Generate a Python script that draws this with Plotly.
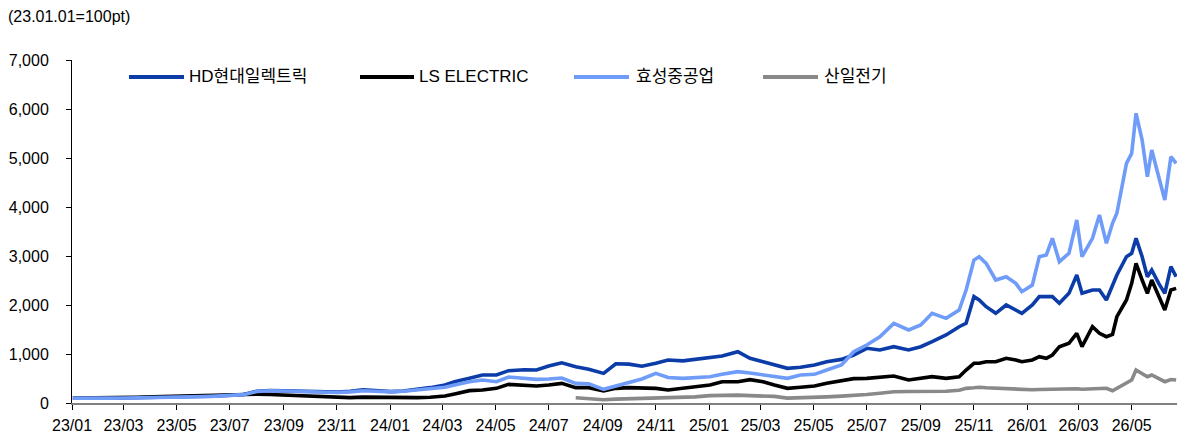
import plotly.graph_objects as go

# ---------------- data ----------------
dates = [
    "2023-01-02", "2023-01-16", "2023-02-01", "2023-02-16", "2023-03-02", "2023-03-16",
    "2023-04-03", "2023-04-17", "2023-05-02", "2023-05-16", "2023-06-01", "2023-06-16",
    "2023-07-03", "2023-07-17", "2023-08-01", "2023-08-16", "2023-09-01", "2023-09-15",
    "2023-10-04", "2023-10-16", "2023-11-01", "2023-11-16", "2023-12-01", "2023-12-15",
    "2024-01-02", "2024-01-16", "2024-02-01", "2024-02-16", "2024-03-04", "2024-03-15",
    "2024-04-01", "2024-04-16", "2024-05-02", "2024-05-16", "2024-06-03", "2024-06-17",
    "2024-07-01", "2024-07-16", "2024-08-01", "2024-08-16", "2024-09-02", "2024-09-16",
    "2024-10-01", "2024-10-16", "2024-11-01", "2024-11-15", "2024-12-02", "2024-12-16",
    "2025-01-02", "2025-01-16", "2025-02-03", "2025-02-17", "2025-03-04", "2025-03-17",
    "2025-04-01", "2025-04-16", "2025-05-02", "2025-05-16", "2025-06-02", "2025-06-16",
    "2025-07-01", "2025-07-16", "2025-08-01", "2025-08-18",
    "2025-09-01", "2025-09-14", "2025-09-30", "2025-10-15", "2025-10-23", "2025-11-01",
    "2025-11-07", "2025-11-15", "2025-11-26", "2025-12-08", "2025-12-19", "2025-12-26",
    "2026-01-07", "2026-01-15", "2026-01-23", "2026-01-30", "2026-02-07", "2026-02-18",
    "2026-02-27", "2026-03-05", "2026-03-17", "2026-03-25", "2026-04-02", "2026-04-09",
    "2026-04-14", "2026-04-25", "2026-05-01", "2026-05-06", "2026-05-13", "2026-05-19",
    "2026-05-24", "2026-06-01", "2026-06-08", "2026-06-15", "2026-06-21",
]

hd_electric = [
    100, 98, 102, 104, 106, 108, 112, 118, 122, 126, 135, 145,
    160, 172, 240, 255, 248, 240, 228, 220, 225, 240, 268, 255,
    232, 245, 272, 313, 367, 435, 503, 571, 571, 660, 680, 673,
    755, 820, 741, 690, 605, 800, 793, 750, 810, 878, 860, 890,
    925, 960, 1047, 912, 843, 775, 707, 728, 775, 843, 890, 980,
    1116, 1082, 1149, 1082,
    1149, 1251, 1388, 1557, 1626, 2170, 2102, 1965, 1830, 2000, 1898, 1830,
    2000, 2170, 2170, 2170, 2034, 2238, 2612, 2238, 2306, 2306, 2102, 2374,
    2612, 2986, 3055, 3361, 2986, 2578, 2714, 2442, 2238, 2782, 2578,
]

ls_electric = [
    100, 100, 104, 106, 112, 118, 128, 135, 140, 142, 148, 152,
    158, 165, 180, 175, 165, 158, 150, 140, 115, 110, 120, 116,
    116, 110, 110, 116, 143, 184, 252, 265, 299, 380, 370, 347,
    367, 401, 313, 313, 245, 299, 313, 299, 299, 265, 299, 333,
    367, 435, 435, 476, 435, 367, 299, 320, 347, 401, 455, 497,
    503, 524, 551, 469,
    503, 537, 503, 537, 673, 810, 810, 843, 843, 912, 878, 843,
    878, 945, 912, 980, 1149, 1218, 1422, 1149, 1557, 1422, 1353, 1400,
    1761, 2102, 2442, 2850, 2510, 2238, 2510, 2170, 1898, 2306, 2340,
]

hyosung_heavy = [
    100, 96, 99, 100, 102, 104, 108, 112, 118, 122, 130, 140,
    155, 170, 235, 250, 245, 238, 225, 218, 215, 228, 250, 240,
    228, 240, 268, 293, 320, 367, 435, 469, 435, 530, 510, 483,
    490, 510, 401, 390, 279, 347, 435, 490, 605, 520, 503, 520,
    537, 585, 639, 612, 571, 537, 503, 571, 585, 673, 775, 1047,
    1184, 1353, 1625, 1490,
    1592, 1830, 1728, 1898, 2306, 2918, 2986, 2850, 2510, 2578, 2442, 2272,
    2408, 2986, 3020, 3361, 2884, 3055, 3735, 2986, 3361, 3837, 3259, 3667,
    3871, 4891, 5095, 5912, 5367, 4618, 5163, 4618, 4143, 5027, 4891,
]

sanil_electric = [
    None, None, None, None, None, None, None, None, None, None, None, None,
    None, None, None, None, None, None, None, None, None, None, None, None,
    None, None, None, None, None, None, None, None, None, None, None, None,
    None, None, 108, 95, 65, 80, 85, 100, 110, 115, 120, 125,
    150, 160, 160, 150, 145, 135, 100, 105, 110, 125, 140, 150,
    175, 200, 230, 235,
    235, 230, 240, 260, 299, 310, 320, 310, 300, 290, 285, 280,
    270, 275, 280, 280, 285, 290, 290, 280, 290, 295, 300, 250,
    300, 401, 469, 673, 600, 537, 571, 500, 435, 480, 470,
]

series_names = ["HD현대일렉트릭", "LS ELECTRIC", "효성중공업", "산일전기"]
series_values = [hd_electric, ls_electric, hyosung_heavy, sanil_electric]
series_colors = ["#0B3CA8", "#000000", "#709CF9", "#898989"]

tick_start = "2023-01-01"
x_end = "2026-06-22"
y_max = 7000
y_step = 1000
unit_note = "(23.01.01=100pt)"

# ---------------- layout geometry (pixels) ----------------
W, H = 1178, 437
ML, MR, MT, MB = 72, 1, 60, 34
PW, PH = W - ML - MR, H - MT - MB


def px_x(p):
    return (p - ML) / PW


def px_y(p):
    return (H - MB - p) / PH


num_font = "Liberation Sans Narrow, Arial Narrow, Liberation Sans, Arial, sans-serif"
txt_font = "Liberation Sans, Arial, Noto Sans CJK KR, sans-serif"

fig = go.Figure()
for name, vals, col in zip(series_names, series_values, series_colors):
    fig.add_trace(go.Scatter(
        x=dates, y=vals, name=name, mode="lines",
        line=dict(color=col, width=3.6), showlegend=False,
        connectgaps=False,
    ))

# custom legend (long line samples like the reference)
legend_px = [(129, 184, 187), (360, 414, 417), (574, 629, 634), (763, 818, 822)]
leg_y = 77
shapes = []
annotations = []
for (x0, x1, xt), name, col in zip(legend_px, series_names, series_colors):
    shapes.append(dict(type="line", xref="paper", yref="paper",
                       x0=px_x(x0), x1=px_x(x1), y0=px_y(leg_y), y1=px_y(leg_y),
                       line=dict(color=col, width=4)))
    annotations.append(dict(xref="paper", yref="paper", x=px_x(xt), y=px_y(leg_y - 1),
                            text=name, showarrow=False, xanchor="left", yanchor="middle",
                            font=dict(family=txt_font, size=17, color="#000000")))

annotations.append(dict(xref="paper", yref="paper", x=px_x(6), y=px_y(17),
                        text=unit_note, showarrow=False, xanchor="left", yanchor="middle",
                        font=dict(family=num_font, size=16, color="#000000")))

fig.update_layout(
    width=W, height=H,
    margin=dict(l=ML, r=MR, t=MT, b=MB, pad=0, autoexpand=False),
    paper_bgcolor="white", plot_bgcolor="white",
    shapes=shapes, annotations=annotations,
    showlegend=False,
    font=dict(family=num_font, size=16, color="#000000"),
    xaxis=dict(
        type="date", range=[tick_start, x_end],
        tick0=tick_start, dtick="M2", tickformat="%y/%m",
        ticks="outside", ticklen=5, tickcolor="#000000",
        showline=True, linecolor="#808080", linewidth=1.5,
        showgrid=False, zeroline=False, ticklabelstandoff=2,
        tickfont=dict(family=num_font, size=16, color="#000000"),
    ),
    yaxis=dict(
        range=[0, y_max], dtick=y_step, tick0=0, tickformat=",",
        ticks="outside", ticklen=5, tickcolor="#000000",
        showline=True, linecolor="#000000", linewidth=1,
        showgrid=False, zeroline=False, ticklabelstandoff=14,
        tickfont=dict(family=num_font, size=16, color="#000000"),
    ),
)

fig.write_html(
    "out.html",
    config={"displayModeBar": False},
    post_script="document.body.style.margin='0px';document.body.style.overflow='hidden';",
)
